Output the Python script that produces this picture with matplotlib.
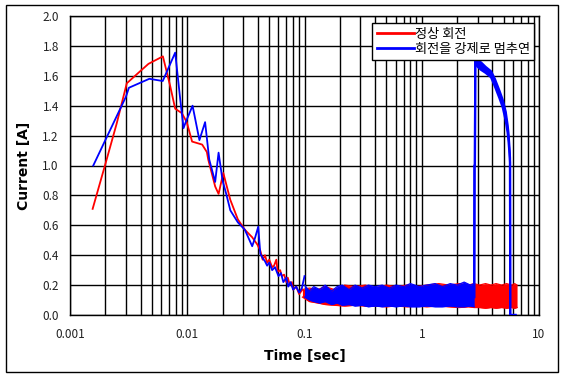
import matplotlib
matplotlib.use("Agg")
import matplotlib.pyplot as plt
from matplotlib.patches import Rectangle

plt.rcParams['font.family'] = ['Noto Sans CJK KR', 'DejaVu Sans']

# ---- data ----
red_label = "정상 회전"
blue_label = "회전을 강제로 멈추연"

# red: normal rotation, transient part
red_t = [0.00156, 0.00202, 0.0025, 0.00305, 0.00396, 0.00467, 0.0062, 0.00716, 0.00789,
         0.009, 0.0099, 0.011, 0.0134, 0.0147, 0.0151, 0.0173, 0.0185, 0.0203, 0.0233,
         0.027, 0.031, 0.0358, 0.0397, 0.042, 0.044, 0.046, 0.048, 0.05, 0.053, 0.055,
         0.0575, 0.059, 0.062, 0.064, 0.067, 0.07, 0.072, 0.075, 0.078, 0.08, 0.085,
         0.09, 0.096]
red_v = [0.71, 1.02, 1.28, 1.55, 1.63, 1.68, 1.73, 1.53, 1.38,
         1.35, 1.29, 1.16, 1.14, 1.09, 1.04, 0.86, 0.81, 0.95, 0.77,
         0.64, 0.57, 0.52, 0.47, 0.43, 0.37, 0.40, 0.35, 0.37, 0.32, 0.33,
         0.37, 0.29, 0.30, 0.26, 0.27, 0.22, 0.25, 0.20, 0.22, 0.17, 0.19,
         0.14, 0.17]

# blue: rotation forcibly stopped, transient part
blue_t = [0.00158, 0.003, 0.00318, 0.00475, 0.00618, 0.00789, 0.00872, 0.0093, 0.0097,
          0.0111, 0.0127, 0.0142, 0.0154, 0.0173, 0.0185, 0.02, 0.0215, 0.0233, 0.027,
          0.031, 0.0358, 0.038, 0.0403, 0.042, 0.044, 0.046, 0.048, 0.05, 0.053, 0.056,
          0.06, 0.063, 0.066, 0.07, 0.0727, 0.076, 0.08, 0.085, 0.09, 0.095, 0.1]
blue_v = [1.0, 1.46, 1.52, 1.58, 1.565, 1.755, 1.44, 1.25, 1.29,
          1.40, 1.17, 1.29, 1.04, 0.89, 1.086, 0.90, 0.81, 0.70, 0.62,
          0.57, 0.46, 0.52, 0.59, 0.41, 0.38, 0.36, 0.33, 0.35, 0.30, 0.32,
          0.26, 0.28, 0.22, 0.25, 0.19, 0.22, 0.17, 0.19, 0.15, 0.18, 0.26]

# noise band envelopes (steady state)
red_band_t = [0.096, 0.11, 0.13, 0.15, 0.18, 0.22, 0.27, 0.33, 0.4, 0.5, 0.6, 0.75, 0.9,
              1.1, 1.4, 1.7, 2.1, 2.5, 2.8, 3.1, 3.5, 3.9, 4.3, 4.8, 5.3, 5.8, 6.2, 6.5]
red_band_hi = [0.17, 0.18, 0.17, 0.19, 0.17, 0.2, 0.19, 0.2, 0.18, 0.2, 0.19, 0.2, 0.19,
               0.2, 0.21, 0.2, 0.21, 0.2, 0.21, 0.2, 0.21, 0.2, 0.21, 0.2, 0.21, 0.2, 0.21, 0.2]
red_band_lo = [0.12, 0.09, 0.08, 0.07, 0.065, 0.06, 0.065, 0.06, 0.06, 0.055, 0.06, 0.055, 0.06,
               0.055, 0.06, 0.055, 0.05, 0.055, 0.05, 0.05, 0.045, 0.05, 0.045, 0.05, 0.045, 0.05, 0.045, 0.05]

blue_band_t = [0.1, 0.11, 0.12, 0.135, 0.15, 0.17, 0.19, 0.21, 0.24, 0.27, 0.31, 0.35, 0.4,
               0.46, 0.53, 0.6, 0.7, 0.8, 0.95, 1.1, 1.3, 1.5, 1.75, 2.0, 2.3, 2.6, 2.8]
blue_band_hi = [0.2, 0.16, 0.19, 0.17, 0.2, 0.16, 0.19, 0.2, 0.17, 0.2, 0.18, 0.2, 0.19,
                0.2, 0.18, 0.2, 0.19, 0.21, 0.19, 0.2, 0.21, 0.19, 0.21, 0.2, 0.22, 0.2, 0.21]
blue_band_lo = [0.12, 0.1, 0.09, 0.08, 0.09, 0.07, 0.08, 0.065, 0.07, 0.06, 0.065, 0.055, 0.06,
                0.055, 0.06, 0.055, 0.06, 0.055, 0.055, 0.06, 0.055, 0.055, 0.06, 0.055, 0.055, 0.06, 0.055]

# blue: stall current after forced stop (upper / lower edge of the thick noisy trace)
blue_stall_t = [2.8, 2.82, 2.84, 2.86, 3.0, 3.2, 3.5, 3.9, 4.2, 4.6, 4.9, 5.2, 5.4, 5.5,
                5.6, 5.66, 5.68, 6.3]
blue_stall_hi = [0.12, 1.0, 1.0, 1.72, 1.70, 1.69, 1.66, 1.63, 1.58, 1.50, 1.44, 1.36, 1.27, 1.21,
                 1.12, 1.05, 0.0, 0.0]
blue_stall_lo = [0.12, 1.0, 1.0, 1.70, 1.66, 1.64, 1.62, 1.59, 1.53, 1.45, 1.39, 1.30, 1.22, 1.16,
                 1.08, 1.02, 0.0, 0.0]

x_ticks = [0.001, 0.01, 0.1, 1, 10]
x_ticklabels = ["0.001", "0.01", "0.1", "1", "10"]
y_ticks = [0.0, 0.2, 0.4, 0.6, 0.8, 1.0, 1.2, 1.4, 1.6, 1.8, 2.0]

RED = "#ff0000"
BLUE = "#0000ff"

fig = plt.figure(figsize=(5.66, 3.79), dpi=100)
ax = fig.add_axes([70/566, 1-315/379, (539-70)/566, (315-16)/379])

ax.set_xscale("log")
ax.set_xlim(0.001, 10)
ax.set_ylim(0, 2.0)

# red
ax.plot(red_t, red_v, color=RED, lw=1.3, zorder=3)
ax.fill_between(red_band_t, red_band_lo, red_band_hi, color=RED, lw=0, zorder=3)
ax.plot(red_band_t, red_band_hi, color=RED, lw=0.9, zorder=3)
ax.plot(red_band_t, red_band_lo, color=RED, lw=0.9, zorder=3)

# blue
ax.plot(blue_t, blue_v, color=BLUE, lw=1.3, zorder=4)
ax.fill_between(blue_band_t, blue_band_lo, blue_band_hi, color=BLUE, lw=0, zorder=4)
ax.plot(blue_band_t, blue_band_hi, color=BLUE, lw=0.9, zorder=4)
ax.plot(blue_band_t, blue_band_lo, color=BLUE, lw=0.9, zorder=4)
ax.fill_between(blue_stall_t, blue_stall_lo, blue_stall_hi, color=BLUE, lw=0, zorder=4)
ax.plot(blue_stall_t, blue_stall_hi, color=BLUE, lw=1.6, zorder=4)
ax.plot(blue_stall_t, blue_stall_lo, color=BLUE, lw=1.6, zorder=4)

# legend-only handles
ax.plot([], [], color=RED, lw=2, label=red_label)
ax.plot([], [], color=BLUE, lw=2, label=blue_label)

ax.set_xticks(x_ticks)
ax.set_xticklabels(x_ticklabels)
ax.set_yticks(y_ticks)
ax.set_yticklabels([f"{v:.1f}" for v in y_ticks])
ax.grid(True, which="major", color="black", lw=1.0)
ax.grid(True, which="minor", axis="x", color="black", lw=1.0)
ax.set_axisbelow(True)
ax.tick_params(axis="both", which="both", length=0, labelsize=8.5, labelcolor="#222222", pad=8)
ax.tick_params(axis="x", pad=9)
for s in ax.spines.values():
    s.set_color("black")
    s.set_linewidth(1.0)

ax.set_xlabel("Time [sec]", fontsize=10, fontweight="bold", labelpad=6, family=["DejaVu Sans"])
ax.set_ylabel("Current [A]", fontsize=10, fontweight="bold", labelpad=8, family=["DejaVu Sans"])

leg = ax.legend(loc="upper right", bbox_to_anchor=(0.99, 0.976), frameon=True, fancybox=False,
                edgecolor="black", framealpha=1, fontsize=9.5, handlelength=2.8,
                handletextpad=0.05, borderpad=0.35, labelspacing=0.15, borderaxespad=0)
leg.get_frame().set_linewidth(1.0)
leg.set_zorder(10)

fig.patches.append(Rectangle((5.5/566, 1-372/379), (557.5-5.5)/566, (372-5)/379,
                             transform=fig.transFigure, fill=False, edgecolor="black", lw=1.0))

fig.savefig("out.png", dpi=100)
